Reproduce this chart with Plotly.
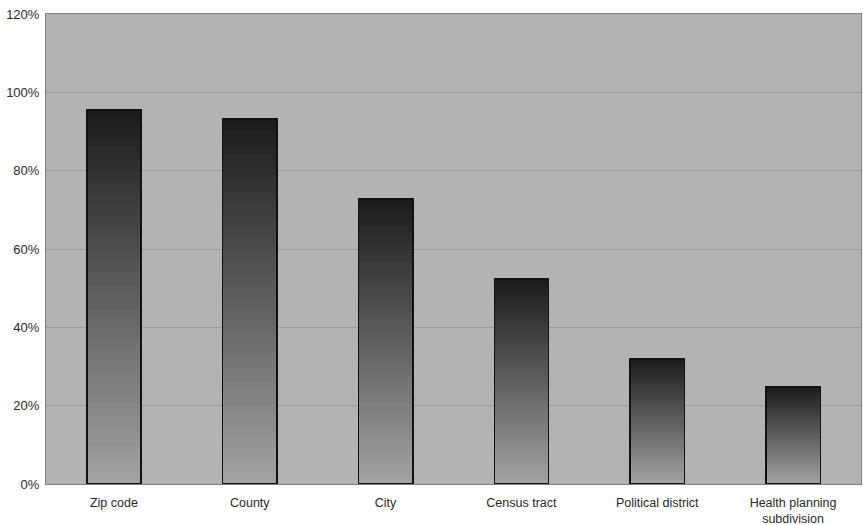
import plotly.graph_objects as go

categories = ["Zip code", "County", "City", "Census tract", "Political district",
              "Health planning<br>subdivision"]
values = [95.5, 93.2, 72.8, 52.3, 31.9, 24.8]
y_ticks = [0, 20, 40, 60, 80, 100, 120]
y_tick_labels = ["0%", "20%", "40%", "60%", "80%", "100%", "120%"]

N = 60
top_rgb = (28, 28, 28)
bottom_rgb = (162, 162, 162)

fig = go.Figure()
for k in range(N):
    t = k / (N - 1)  # 0 at bottom, 1 at top
    c = [round(bottom_rgb[i] + (top_rgb[i] - bottom_rgb[i]) * t) for i in range(3)]
    col = f"rgb({c[0]},{c[1]},{c[2]})"
    fig.add_trace(go.Bar(
        x=categories, y=[v / N for v in values],
        marker=dict(color=col, line=dict(width=0)),
        width=0.4, hoverinfo="skip", showlegend=False,
        xaxis="x", yaxis="y",
    ))

# outline overlay on a twin x axis
fig.add_trace(go.Bar(
    x=categories, y=values,
    marker=dict(color="rgba(0,0,0,0)", line=dict(color="#111111", width=1.5)),
    width=0.4, showlegend=False, xaxis="x2", yaxis="y",
))

fig.update_layout(
    barmode="stack",
    width=863, height=525,
    margin=dict(l=46, r=2, t=14, b=41),
    paper_bgcolor="white",
    plot_bgcolor="#b3b3b3",
    font=dict(family="Liberation Sans, Arial, sans-serif", size=13, color="#2a2a2a"),
    xaxis=dict(
        showgrid=False, showline=True, linecolor="#808080", linewidth=1, mirror=True,
        ticks="", tickfont=dict(size=12.5), automargin=False, ticklabelstandoff=7,
        range=[-0.5, 5.5],
    ),
    xaxis2=dict(
        overlaying="x", matches="x", visible=False, range=[-0.5, 5.5],
    ),
    yaxis=dict(
        range=[0, 120], tickvals=y_ticks, ticktext=y_tick_labels,
        showgrid=True, gridcolor="#999999", gridwidth=1,
        showline=True, linecolor="#808080", linewidth=1, mirror=True,
        ticks="", zeroline=False, tickfont=dict(size=13), automargin=False,
        ticklabelstandoff=3, ticklabeloverflow="allow",
    ),
)
fig.write_html(
    "out.html",
    config={"displayModeBar": False},
    post_script="document.body.style.margin='0';document.body.style.overflow='hidden';",
)
